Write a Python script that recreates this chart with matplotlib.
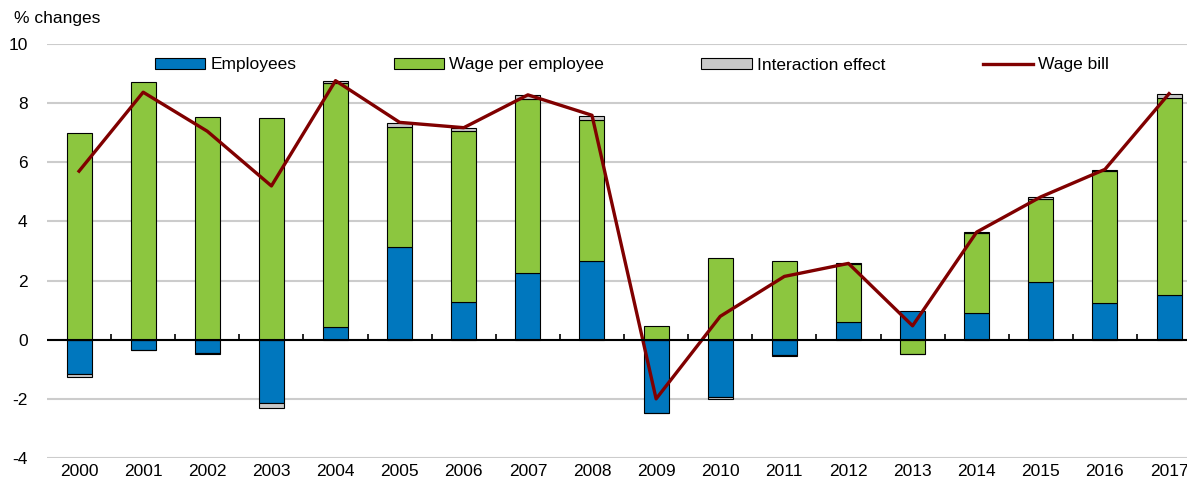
import numpy as np
import matplotlib.pyplot as plt

years = [str(y) for y in range(2000, 2018)]
employees = [-1.16, -0.34, -0.45, -2.14, 0.43, 3.15, 1.29, 2.25, 2.66,
             -2.48, -1.95, -0.52, 0.61, 0.96, 0.89, 1.94, 1.24, 1.52]
wage_per_employee = [6.98, 8.73, 7.52, 7.50, 8.25, 4.05, 5.78, 5.90, 4.78,
                     0.45, 2.78, 2.65, 1.95, -0.48, 2.71, 2.82, 4.45, 6.67]
interaction = [-0.10, -0.02, -0.04, -0.16, 0.06, 0.12, 0.08, 0.13, 0.12,
               -0.01, -0.05, -0.02, 0.03, -0.01, 0.04, 0.06, 0.06, 0.11]
wage_bill = [5.70, 8.37, 7.05, 5.20, 8.76, 7.35, 7.17, 8.28, 7.59,
             -2.00, 0.79, 2.14, 2.58, 0.47, 3.64, 4.83, 5.76, 8.32]

plt.rcParams['font.family'] = ['Liberation Sans', 'DejaVu Sans']
plt.rcParams['axes.unicode_minus'] = False

BLUE = '#0077BE'
GREEN = '#8CC63F'
GREY = '#C8C8C8'
RED = '#800000'
FS = 12.5

fig = plt.figure(figsize=(11.87, 4.84), dpi=100)
ax = fig.add_axes([47 / 1187, 26 / 484, (1187 - 47) / 1187, (458 - 44) / 484])

x = np.arange(len(years))
pos_base = np.zeros(len(years))
neg_base = np.zeros(len(years))
series = [(employees, BLUE, 'Employees'),
          (wage_per_employee, GREEN, 'Wage per employee'),
          (interaction, GREY, 'Interaction effect')]
handles = []
for vals, col, lab in series:
    v = np.array(vals)
    base = np.where(v >= 0, pos_base, neg_base)
    b = ax.bar(x, v, 0.39, bottom=base, color=col, edgecolor='black',
               linewidth=0.8, label=lab, zorder=3)
    handles.append(b)
    pos_base += np.where(v >= 0, v, 0)
    neg_base += np.where(v < 0, v, 0)

line, = ax.plot(x, wage_bill, color=RED, linewidth=2.4, label='Wage bill', zorder=4)
handles.append(line)

ax.set_ylim(-4, 10)
ax.set_xlim(-0.5, 17.28)
ax.set_yticks(range(-4, 11, 2))
ax.set_xticks(x)
ax.set_xticklabels(years)
ax.tick_params(axis='both', length=0, labelsize=FS)
ax.tick_params(axis='y', pad=14)
ax.tick_params(axis='x', pad=4)
for s in ax.spines.values():
    s.set_visible(False)
ax.grid(axis='y', color='#CCCCCC', linewidth=1.5, zorder=0)
ax.axhline(0, color='black', linewidth=1.5, zorder=5)
ax.vlines(x[:-1] + 0.5, 0, 0.2, color='black', linewidth=1.2, zorder=5)

fig.text(14 / 1187, 1 - 18 / 484, '% changes', fontsize=FS, va='center', ha='left')

ax.legend(handles=handles, loc='center', bbox_to_anchor=(632 / 1187, 1 - 65 / 484),
          bbox_transform=fig.transFigure, ncol=4, frameon=False,
          fontsize=FS, handlelength=2.9, handleheight=0.65,
          handletextpad=0.3, columnspacing=5.6)

fig.savefig('out.png', dpi=100)
